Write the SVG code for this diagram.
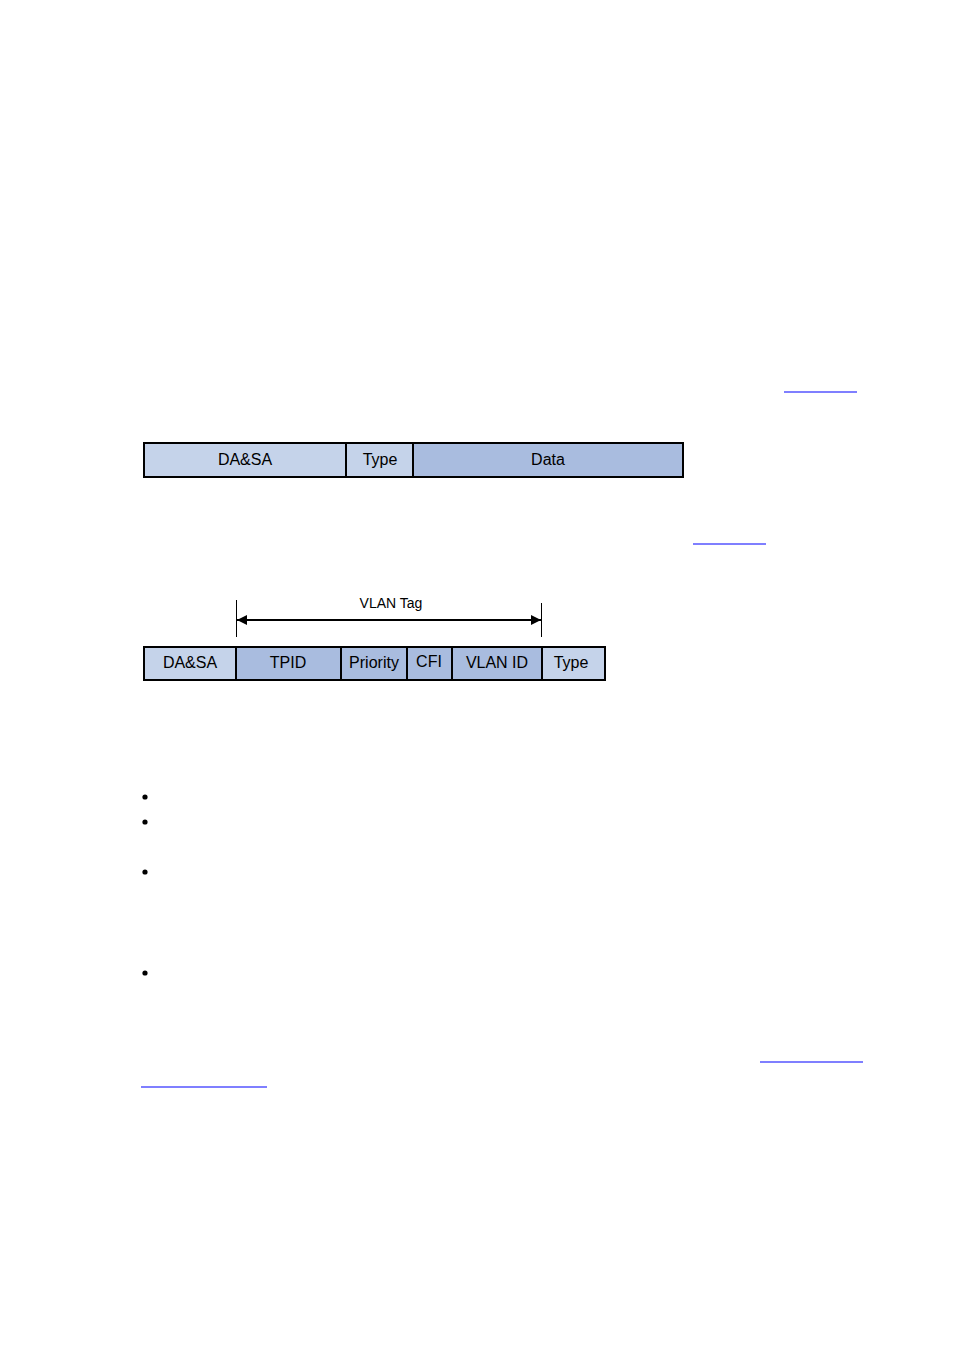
<svg xmlns="http://www.w3.org/2000/svg" width="954" height="1350" viewBox="0 0 954 1350">
<style>
.light{fill:#c5d3ea;stroke:#000;stroke-width:2}
.dark{fill:#a9bcdf;stroke:#000;stroke-width:2}
.lbl{font-family:"Liberation Sans",Arial,sans-serif;font-size:16px;fill:#000;text-anchor:middle}
.small{font-family:"Liberation Sans",Arial,sans-serif;font-size:14px;fill:#000;text-anchor:middle}
.link{stroke:#0000ff;stroke-width:1.2}
.tick{stroke:#000;stroke-width:1}
</style>
<defs>
<marker id="ah" viewBox="0 0 10 10" refX="10" refY="5" markerWidth="10" markerHeight="10" markerUnits="userSpaceOnUse" orient="auto-start-reverse">
<path d="M0,0 L10,5 L0,10 z" fill="#000"/>
</marker>
</defs>
<rect width="954" height="1350" fill="#fff"/>
<g id="links">
<line class="link" x1="784" y1="392" x2="857" y2="392"/>
<line class="link" x1="693" y1="544" x2="766" y2="544"/>
<line class="link" x1="760" y1="1062" x2="863" y2="1062"/>
<line class="link" x1="141" y1="1087" x2="267" y2="1087"/>
</g>
<g id="frame1">
<g id="f1-dasa"><rect class="light" x="144" y="443" width="202" height="34"/><text class="lbl" x="245" y="465">DA&amp;SA</text></g>
<g id="f1-type"><rect class="light" x="346" y="443" width="67" height="34"/><text class="lbl" x="380" y="465">Type</text></g>
<g id="f1-data"><rect class="dark" x="413" y="443" width="270" height="34"/><text class="lbl" x="548" y="465">Data</text></g>
</g>
<g id="frame2">
<g id="f2-dasa"><rect class="light" x="144" y="647" width="92" height="33"/><text class="lbl" x="190" y="668">DA&amp;SA</text></g>
<g id="f2-tpid"><rect class="dark" x="236" y="647" width="105" height="33"/><text class="lbl" x="288" y="668">TPID</text></g>
<g id="f2-priority"><rect class="dark" x="341" y="647" width="66" height="33"/><text class="lbl" x="374" y="668">Priority</text></g>
<g id="f2-cfi"><rect class="dark" x="407" y="647" width="45" height="33"/><text class="lbl" x="429" y="667">CFI</text></g>
<g id="f2-vlanid"><rect class="dark" x="452" y="647" width="90" height="33"/><text class="lbl" x="497" y="668">VLAN ID</text></g>
<g id="f2-type"><rect class="light" x="542" y="647" width="63" height="33"/><text class="lbl" x="571" y="668">Type</text></g>
</g>
<g id="connectors">
<line class="tick" x1="236.5" y1="600" x2="236.5" y2="637"/>
<line class="tick" x1="541.5" y1="603" x2="541.5" y2="637"/>
<line x1="237" y1="620" x2="541" y2="620" stroke="#000" stroke-width="2" marker-start="url(#ah)" marker-end="url(#ah)"/>
<text class="small" x="391" y="608">VLAN Tag</text>
</g>
<g id="bullets" fill="#000">
<circle cx="145" cy="797" r="2.6"/>
<circle cx="145" cy="822" r="2.6"/>
<circle cx="145" cy="872" r="2.6"/>
<circle cx="145" cy="973" r="2.6"/>
</g>
</svg>
